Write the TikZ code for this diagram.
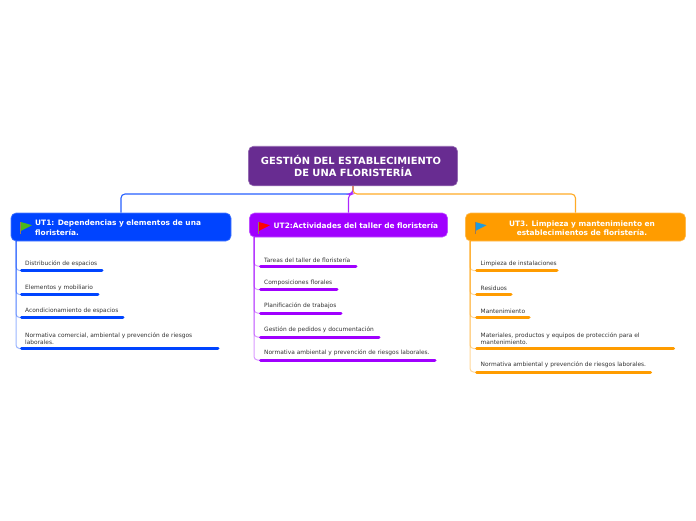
\documentclass[tikz,border=0pt]{standalone}
\usepackage{fontspec}
\setmainfont{DejaVu Sans}
\usetikzlibrary{positioning,calc}
\definecolor{rootcol}{HTML}{682C91}
\definecolor{bluecol}{HTML}{0044FF}
\definecolor{violetcol}{HTML}{A000FF}
\definecolor{orangecol}{HTML}{FF9C00}
\definecolor{itemtxt}{HTML}{333333}
\definecolor{flaggreen}{HTML}{4DB81A}
\definecolor{flagblue}{HTML}{1E9BE0}
\definecolor{polecol}{HTML}{9A7B5A}
\tikzset{
  rootbox/.style={draw=rootcol!70,line width=.6pt,fill=rootcol,rounded corners=5pt,text=white,font=\bfseries\fontsize{9.9}{12.2}\selectfont,align=center,minimum width=209,minimum height=39.5,inner sep=0pt},
  unitbox/.style={fill=#1,draw=#1!70,line width=.6pt,rounded corners=5pt,minimum height=28,inner sep=0pt},
  unittext/.style={inner sep=0pt,text=white,font=\bfseries\fontsize{7.4}{9.2}\selectfont},
  itemtext/.style={anchor=south west,inner sep=0pt,text=itemtxt,font=\fontsize{5.9}{7.2}\selectfont,align=left},
  bar/.style={#1,line width=3pt,line cap=round},
  link/.style={#1!85,line width=1.1pt,rounded corners=4pt},
  twig/.style={#1,line width=1pt,opacity=.4,rounded corners=3.5pt},
}
\begin{document}
\begin{tikzpicture}[x=1pt,y=-1pt]
\useasboundingbox (0,0) rectangle (696,520);
% central topic
\node[rootbox] (root) at (353,166) {GESTIÓN DEL ESTABLECIMIENTO\kern4pt\\DE UNA FLORISTERÍA};
% units
\node[unitbox=bluecol,minimum width=220] (ut1) at (121,227) {};
\node[unitbox=violetcol,minimum width=198,minimum height=24] (ut2) at (348.5,225) {};
\node[unitbox=orangecol,minimum width=220] (ut3) at (575.5,227) {};
\node[unittext,anchor=west,align=left] (ut1txt) at (35,227.7) {UT1: Dependencias y elementos de una\\floristería.};
\node[unittext,anchor=west] (ut2txt) at (273.5,225.5) {UT2:Actividades del taller de floristería};
\node[unittext,align=center] (ut3txt) at (582,228) {UT3. Limpieza y mantenimiento en\\establecimientos de floristería.};
% connectors
\coordinate (fork) at (353,194);
\draw[link=bluecol] (root.south) -- (fork) -| (ut1.north);
\draw[link=violetcol] (root.south) -- (fork) -| (ut2.north);
\draw[link=orangecol] (root.south) -- (fork) -| (ut3.north);
% flags
\foreach \x/\c in {20.5/flaggreen,258.5/red,475/flagblue}{
  \fill[\c] (\x+.3,222) -- (\x+11.5,225.2) -- (\x+.3,231) -- cycle;
  \draw[polecol,line width=.8pt] (\x,222) -- (\x,234);
}
% UT1 items
\coordinate (trunk1) at (16,241);
\foreach \y/\e/\t [count=\i] in {270.5/102/Distribución de espacios,294.5/98/Elementos y mobiliario,317.5/123/Acondicionamiento de espacios,348.5/218/{Normativa comercial, ambiental y prevención de riesgos\\laborales.}}{
  \coordinate (a\i) at (21.5,\y);
  \coordinate (b\i) at (\e,\y);
  \node[itemtext] (item1\i) at (25,\y-3.7) {\t};
  \draw[twig=bluecol] (trunk1) |- (a\i);
  \draw[bar=bluecol] (a\i) -- (b\i);
}
% UT2 items
\coordinate (trunk2) at (254,237);
\foreach \y/\e/\t [count=\i] in {266/356/Tareas del taller de floristería,289.5/337/Composiciones florales,313/341/Planificación de trabajos,337/379/Gestión de pedidos y documentación,360/435/Normativa ambiental y prevención de riesgos laborales.}{
  \coordinate (c\i) at (260.5,\y);
  \coordinate (d\i) at (\e,\y);
  \node[itemtext] (item2\i) at (264,\y-3.7) {\t};
  \draw[twig=violetcol] (trunk2) |- (c\i);
  \draw[bar=violetcol] (c\i) -- (d\i);
}
% UT3 items
\coordinate (trunk3) at (470,241);
\foreach \y/\e/\t [count=\i] in {270.5/557/Limpieza de instalaciones,294.5/511/Residuos,317.5/529/Mantenimiento,348.5/673.5/{Materiales, productos y equipos de protección para el\\mantenimiento.},372/650.5/Normativa ambiental y prevención de riesgos laborales.}{
  \coordinate (e\i) at (476.5,\y);
  \coordinate (f\i) at (\e,\y);
  \node[itemtext] (item3\i) at (480.5,\y-3.7) {\t};
  \draw[twig=orangecol] (trunk3) |- (e\i);
  \draw[bar=orangecol] (e\i) -- (f\i);
}
\end{tikzpicture}
\end{document}
